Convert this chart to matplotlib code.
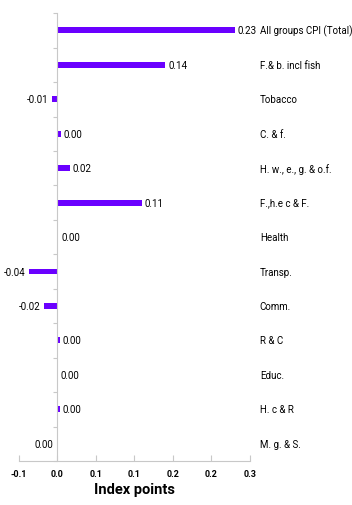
import numpy as np
import matplotlib
matplotlib.use("Agg")
import matplotlib.pyplot as plt
import matplotlib.transforms as mtransforms
from matplotlib.ticker import FuncFormatter

plt.rcParams["font.family"] = ["Roboto", "DejaVu Sans"]

# CPI contributions by group (index points)
groups = ["All groups CPI (Total)", "F.& b. incl fish", "Tobacco", "C. & f.",
          "H. w., e., g. & o.f.", "F.,h.e c & F.", "Health", "Transp.",
          "Comm.", "R & C", "Educ.", "H. c & R", "M. g. & S."]
contrib = [0.23, 0.14, -0.007, 0.004, 0.016, 0.11, 0.001, -0.037,
           -0.017, 0.003, 0.0, 0.003, -0.001]

bar_color = "#6a00ff"
axis_color = "#c8c8c8"


def tick_fmt(v, pos):
    # one decimal, with the first tick shown as -0.1
    if abs(v + 0.05) < 1e-9:
        return "-0.1"
    return f"{v:.1f}"


fig = plt.figure(figsize=(3.52, 5.06), dpi=100)
ax = fig.add_axes([0.054, 0.087, 0.656, 0.885])

ypos = np.arange(len(groups))[::-1]
ax.barh(ypos, contrib, height=0.17, color=bar_color)

ax.set_xlim(-0.05, 0.25)
ax.set_ylim(-0.5, len(groups) - 0.5)
ax.set_xticks(np.arange(-0.05, 0.2501, 0.05))
ax.xaxis.set_major_formatter(FuncFormatter(tick_fmt))
ax.set_yticks(np.arange(-0.5, len(groups), 1.0))
ax.set_yticklabels([])

for s in ["top", "right"]:
    ax.spines[s].set_visible(False)
ax.spines["left"].set_position(("data", 0))
ax.spines["left"].set_color(axis_color)
ax.spines["bottom"].set_color(axis_color)
ax.tick_params(axis="y", direction="out", length=3, color=axis_color)
ax.tick_params(axis="x", direction="in", length=4, color=axis_color,
               labelsize=6.5, pad=6)
for lbl in ax.get_xticklabels():
    lbl.set_fontweight("bold")

# value labels next to bar ends
for y, v in zip(ypos, contrib):
    txt = f"{v:.2f}"
    if txt == "-0.00":
        txt = "0.00"
    if v < 0:
        ax.annotate(txt, (v, y), xytext=(-2.5, 0), textcoords="offset points",
                    ha="right", va="center", fontsize=7)
    else:
        ax.annotate(txt, (v, y), xytext=(2, 0), textcoords="offset points",
                    ha="left", va="center", fontsize=7)

# group names on the right
trans = mtransforms.blended_transform_factory(ax.transAxes, ax.transData)
for y, name in zip(ypos, groups):
    ax.text(1.043, y, name, transform=trans, ha="left", va="center",
            fontsize=7, clip_on=False)

ax.set_xlabel("Index points", fontsize=10.5, fontweight="bold", labelpad=3)

fig.savefig("out.png", dpi=100)
